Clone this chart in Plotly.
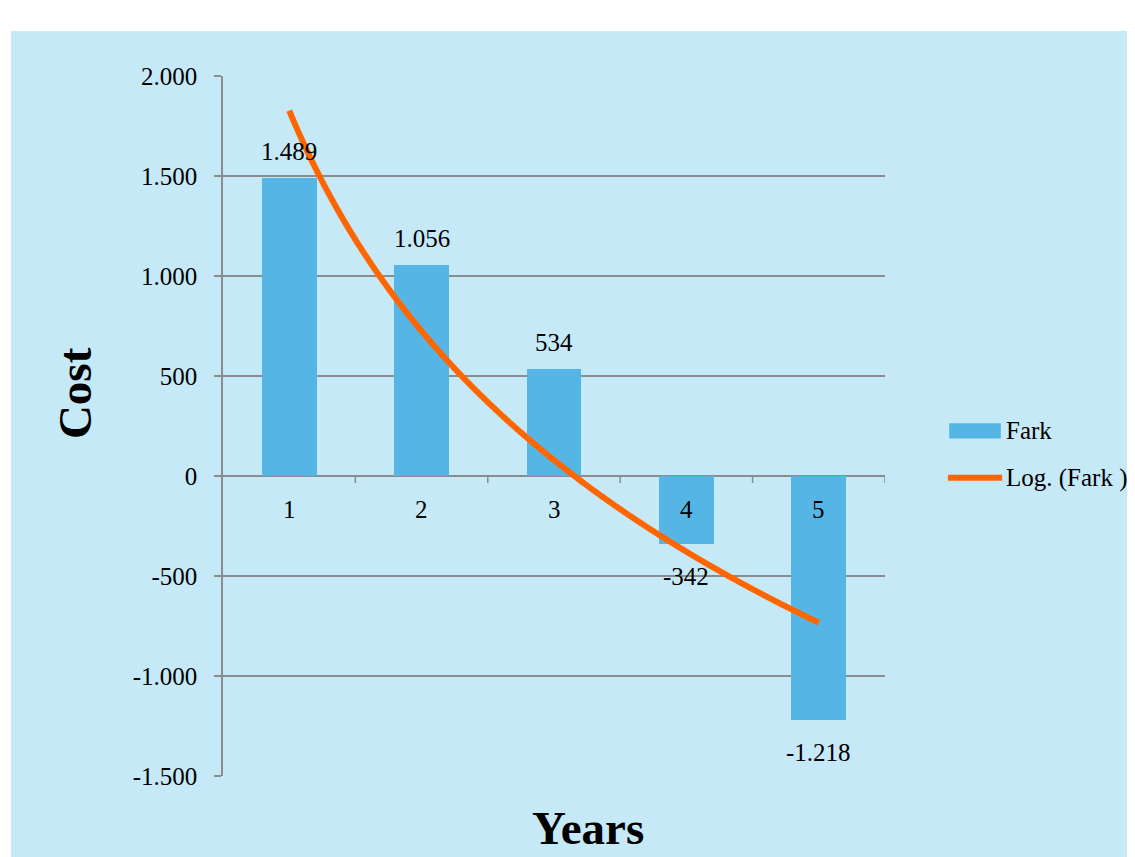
import numpy as np
import plotly.graph_objects as go

# Yearly cost differences ("Fark")
years = [1, 2, 3, 4, 5]
fark = [1489, 1056, 534, -342, -1218]

y_tickvals = [2000, 1500, 1000, 500, 0, -500, -1000, -1500]
y_ticktext = ["2.000", "1.500", "1.000", "500", "0", "-500", "-1.000", "-1.500"]

BAR = "#55b6e6"
ORANGE = "#ff6600"
GRID = "#8c8c8c"
BG = "#c6e9f8"
FONT = "Liberation Serif"
FS = 25


def fmt(v):
    s = f"{abs(v):,}".replace(",", ".")
    return ("-" if v < 0 else "") + s


# Logarithmic trend line fitted to the yearly values
a, b = np.polyfit(np.log(years), fark, 1)
xs = np.linspace(years[0], years[-1], 400)
trend = a * np.log(xs) + b

fig = go.Figure()
fig.add_trace(go.Bar(x=years, y=fark, marker=dict(color=BAR, line=dict(width=0)),
                     width=0.415, name="Fark", showlegend=False))
fig.add_trace(go.Scatter(x=xs, y=trend, mode="lines",
                         line=dict(color=ORANGE, width=6, shape="spline"),
                         name="Log. (Fark )", showlegend=False))

annotations = []
# value labels: above positive bars, below negative bars
for x, v in zip(years, fark):
    annotations.append(dict(x=x, y=v, xref="x", yref="y", text=fmt(v), showarrow=False,
                            font=dict(family=FONT, size=FS, color="black"),
                            yanchor="bottom" if v >= 0 else "top",
                            yshift=11 if v >= 0 else -17))
# category labels just under the zero line
for x in years:
    annotations.append(dict(x=x, y=0, xref="x", yref="y", text=str(x), showarrow=False,
                            font=dict(family=FONT, size=FS, color="black"),
                            yanchor="top", yshift=-18))
# axis titles
annotations.append(dict(x=0.5514, y=-0.074, xref="paper", yref="paper", text="<b>Years</b>",
                        showarrow=False, font=dict(family=FONT, size=47, color="black"),
                        xanchor="center", yanchor="middle"))
annotations.append(dict(x=-0.2236, y=0.547, xref="paper", yref="paper", text="<b>Cost</b>",
                        showarrow=False, textangle=-90,
                        font=dict(family=FONT, size=47, color="black"),
                        xanchor="center", yanchor="middle"))
# legend entries
annotations.append(dict(x=1.18, y=0.493, xref="paper", yref="paper", text="Fark",
                        showarrow=False, xanchor="left", yanchor="middle",
                        font=dict(family=FONT, size=FS, color="black")))
annotations.append(dict(x=1.18, y=0.426, xref="paper", yref="paper", text="Log. (Fark )",
                        showarrow=False, xanchor="left", yanchor="middle",
                        font=dict(family=FONT, size=FS, color="black")))

shapes = [
    # chart area background
    dict(type="rect", xref="paper", yref="paper", x0=-0.3202, x1=1.3655, y0=-0.1157, y1=1.0643,
         fillcolor=BG, line=dict(width=0), layer="below"),
    # legend symbols
    dict(type="rect", xref="paper", yref="paper", x0=1.097, x1=1.175, y0=0.482, y1=0.504,
         fillcolor=BAR, line=dict(width=0)),
    dict(type="line", xref="paper", yref="paper", x0=1.095, x1=1.177, y0=0.426, y1=0.426,
         line=dict(color=ORANGE, width=6)),
    # zero line acting as the category axis
    dict(type="line", xref="x", yref="y", x0=0.5, x1=5.5, y0=0, y1=0,
         line=dict(color=GRID, width=1.5), layer="below"),
]
# category boundary tick marks on the zero line
for k in range(1, 6):
    shapes.append(dict(type="line", xref="x", yref="y", ysizemode="pixel", yanchor=0,
                       x0=k + 0.5, x1=k + 0.5, y0=0, y1=-7,
                       line=dict(color=GRID, width=1.5)))

fig.update_layout(
    width=1135, height=857,
    margin=dict(l=223, r=250, t=76, b=81),
    paper_bgcolor="white",
    plot_bgcolor="rgba(0,0,0,0)",
    showlegend=False,
    font=dict(family=FONT, size=FS, color="black"),
    xaxis=dict(range=[0.5, 5.5], showgrid=False, zeroline=False, showticklabels=False,
               ticks="", showline=False),
    yaxis=dict(range=[-1500, 2000], tickvals=y_tickvals, ticktext=y_ticktext,
               showgrid=True, gridcolor=GRID, gridwidth=1.5, zeroline=False,
               showline=True, linecolor=GRID, linewidth=1.5,
               ticks="outside", ticklen=7, tickcolor=GRID, tickwidth=1.5,
               ticklabelstandoff=12,
               tickfont=dict(family=FONT, size=FS, color="black")),
    annotations=annotations,
    shapes=shapes,
    bargap=0,
)

fig.write_html("out.html")
